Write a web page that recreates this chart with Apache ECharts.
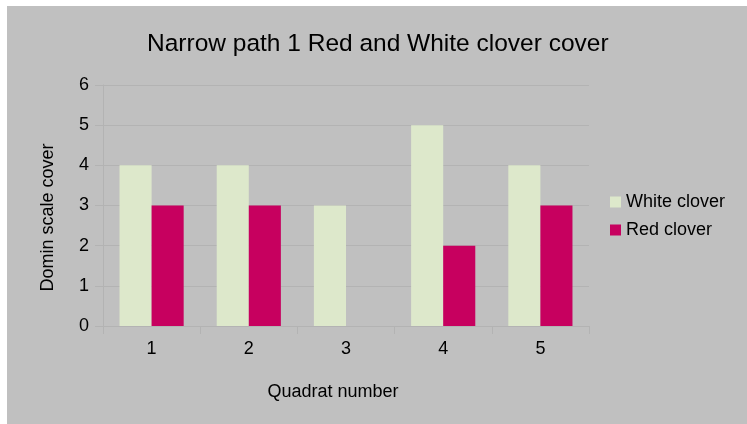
<!DOCTYPE html>
<html><head><meta charset="utf-8">
<script src="https://cdn.jsdelivr.net/npm/echarts@6/dist/echarts.min.js"></script>
<style>html,body{margin:0;padding:0;background:#fff}#c{width:747px;height:424px}</style>
</head><body><div id="c"></div>
<script>
const categories = ['1','2','3','4','5'];
const whiteClover = [4,4,3,5,4];
const redClover = [3,3,0,2,3];
const seriesNames = ['White clover','Red clover'];

const chart = echarts.init(document.getElementById('c'));
const F = 'Liberation Sans, Arial, sans-serif';
chart.setOption({
  backgroundColor: '#ffffff',
  animation: false,
  graphic: [{type:'rect', z:-100, silent:true, shape:{x:7,y:6,width:740,height:418}, style:{fill:'#c0c0c0'}}],
  title: {text:'Narrow path 1 Red and White clover cover', left:142, top:27,
    textStyle:{fontFamily:F, fontSize:24.5, fontWeight:'normal', color:'#000'}},
  legend: {orient:'vertical', left:610, top:193, padding:0, itemWidth:11, itemHeight:11, itemGap:10,
    icon:'rect', textStyle:{fontFamily:F, fontSize:18, color:'#000'}, data:seriesNames},
  grid: {left:103, right:158, top:85, bottom:98, containLabel:false},
  xAxis: {type:'category', data:categories,
    name:'Quadrat number', nameLocation:'middle', nameGap:57,
    nameTextStyle:{fontFamily:F, fontSize:18, color:'#000', padding:[0,26,0,0]},
    axisLine:{lineStyle:{color:'#b3b3b3', width:1}},
    axisTick:{show:true, length:8, lineStyle:{color:'#b3b3b3'}},
    axisLabel:{fontFamily:F, fontSize:18, color:'#000', margin:14},
    splitLine:{show:false}},
  yAxis: {type:'value', min:0, max:6, interval:1,
    name:'Domin scale cover', nameLocation:'middle', nameGap:46,
    nameTextStyle:{fontFamily:F, fontSize:18, color:'#000', padding:[0,24,0,0]},
    axisLine:{show:true, lineStyle:{color:'#b3b3b3', width:1}},
    axisTick:{show:true, length:8, lineStyle:{color:'#b3b3b3'}},
    axisLabel:{fontFamily:F, fontSize:18, color:'#000', margin:14},
    splitLine:{show:true, lineStyle:{color:'#b3b3b3', width:1}}},
  series: [
    {name:seriesNames[0], type:'bar', data:whiteClover, barGap:'0%', barCategoryGap:'34%',
      itemStyle:{color:'#dde8cb'}},
    {name:seriesNames[1], type:'bar', data:redClover, barGap:'0%', barCategoryGap:'34%',
      itemStyle:{color:'#c7005f'}}
  ]
});
</script></body></html>
